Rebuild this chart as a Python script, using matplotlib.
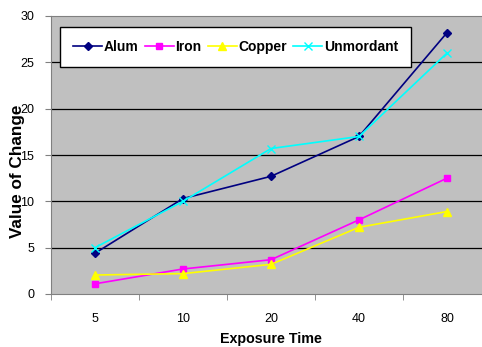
import matplotlib
matplotlib.use("Agg")
import matplotlib.pyplot as plt
import numpy as np

categories = ["5", "10", "20", "40", "80"]
alum = [4.4, 10.3, 12.7, 17.0, 28.2]
iron = [1.1, 2.7, 3.7, 8.0, 12.5]
copper = [2.05, 2.2, 3.2, 7.2, 8.9]
unmordant = [5.0, 10.0, 15.7, 17.0, 26.0]

plt.rcParams["font.family"] = ["Liberation Sans", "DejaVu Sans"]

fig = plt.figure(figsize=(4.82, 3.47), dpi=100)
ax = fig.add_axes([51 / 482, 53 / 347, 440 / 482, 278 / 347])
ax.set_facecolor("#C0C0C0")

x = np.arange(len(categories))
ax.plot(x, alum, color="#000080", marker="D", markersize=4, lw=1.2, label="Alum")
ax.plot(x, iron, color="#FF00FF", marker="s", markersize=5, lw=1.2, label="Iron")
ax.plot(x, copper, color="#FFFF00", marker="^", markersize=6, lw=1.2, label="Copper")
ax.plot(x, unmordant, color="#00FFFF", marker="x", markersize=6, mew=1, lw=1.2, label="Unmordant")

ax.set_xlim(-0.5, len(categories) - 0.5)
ax.set_ylim(0, 30)
ax.set_yticks(np.arange(0, 31, 5))
ax.set_xticks(x)
ax.set_xticklabels(categories)
ax.set_xticks(np.arange(-0.5, len(categories), 1), minor=True)
ax.tick_params(axis="x", which="major", length=0, pad=14, labelsize=9)
ax.tick_params(axis="x", which="minor", length=4, color="#808080")
ax.tick_params(axis="y", length=4, color="#808080", labelsize=9, pad=8)

for v in range(5, 30, 5):
    ax.axhline(v, color="black", lw=0.9, zorder=0.5)

for s in ["left", "bottom", "top"]:
    ax.spines[s].set_color("#808080")
ax.spines["right"].set_visible(False)

ax.set_xlabel("Exposure Time", fontsize=10.3, fontweight="bold", labelpad=4.6)
ax.set_ylabel("Value of Change", fontsize=12.3, fontweight="bold")
ax.yaxis.set_label_coords(-0.058, 0.442)

leg = ax.legend(loc="upper left", bbox_to_anchor=(60 / 482, 1 - 27 / 347), bbox_transform=fig.transFigure,
                ncol=4, frameon=True, fancybox=False, handlelength=2.1,
                handletextpad=0.1, columnspacing=0.45, borderpad=0.95, borderaxespad=0,
                prop={"weight": "bold", "size": 10})
leg.get_frame().set_edgecolor("black")
leg.get_frame().set_linewidth(1)
leg.get_frame().set_alpha(1)

fig.savefig("out.png", dpi=100)
